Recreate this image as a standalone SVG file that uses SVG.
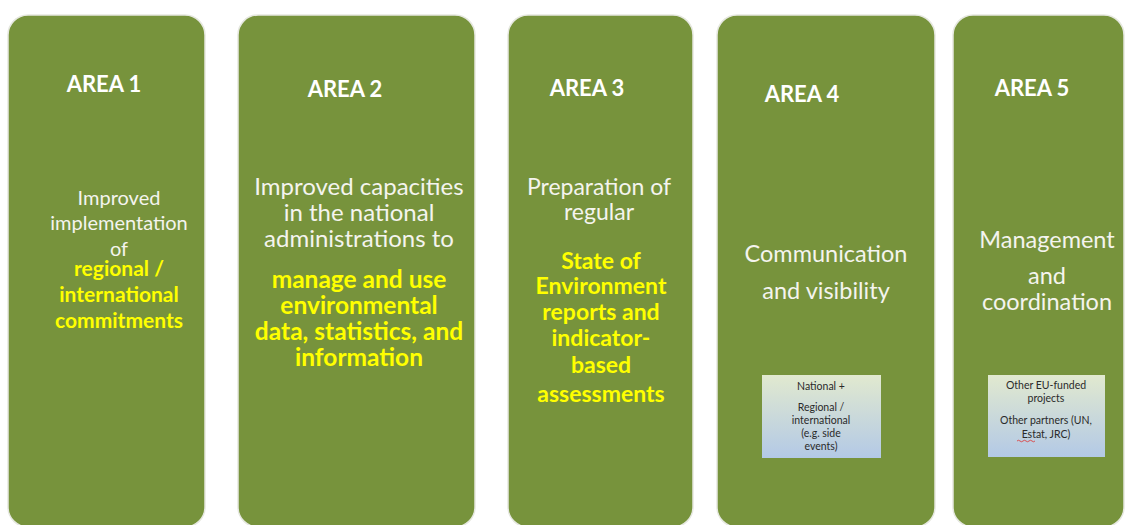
<svg xmlns="http://www.w3.org/2000/svg" width="1126" height="525" viewBox="0 0 1126 525">
<defs>
<linearGradient id="sub" x1="0" y1="0" x2="0" y2="1">
<stop offset="0" stop-color="#e1e9cf"/>
<stop offset="1" stop-color="#b3c9e6"/>
</linearGradient>
<style>
.area{fill:#77933c;stroke:#e6e8e0;stroke-width:1.5}
.t{font-family:Lato,"Liberation Sans",sans-serif;text-anchor:middle}
.h{font-size:22px;font-weight:bold;fill:#ffffff}
.w{fill:#f4f4ee}
.y{font-weight:bold;fill:#ffff00}
.sub{fill:url(#sub);stroke:none}
.s{font-family:Lato,"Liberation Sans",sans-serif;font-size:10.5px;fill:#2a2a2a;text-anchor:middle}
</style>
</defs>
<rect width="1126" height="525" fill="#ffffff"/>
<g id="area1">
<rect class="area" x="8" y="15" width="197" height="512" rx="20"/>
<text class="t h" x="104" y="92">AREA 1</text>
<text class="t w" x="119" y="205" font-size="20">Improved</text>
<text class="t w" x="119" y="230" font-size="20">implementation</text>
<text class="t w" x="119" y="256" font-size="20">of</text>
<text class="t y" x="119" y="276" font-size="21">regional /</text>
<text class="t y" x="119" y="302" font-size="21">international</text>
<text class="t y" x="119" y="328" font-size="21">commitments</text>
</g>
<g id="area2">
<rect class="area" x="238" y="15" width="237" height="512" rx="20"/>
<text class="t h" x="345" y="97">AREA 2</text>
<text class="t w" x="359" y="195" font-size="24">Improved capacities</text>
<text class="t w" x="359" y="221" font-size="24">in the national</text>
<text class="t w" x="359" y="247" font-size="24">administrations to</text>
<text class="t y" x="359" y="288" font-size="24.5">manage and use</text>
<text class="t y" x="359" y="314" font-size="24.5">environmental</text>
<text class="t y" x="359" y="340" font-size="24.5">data, statistics, and</text>
<text class="t y" x="359" y="366" font-size="24.5">information</text>
</g>
<g id="area3">
<rect class="area" x="508" y="15" width="185" height="512" rx="20"/>
<text class="t h" x="587" y="96">AREA 3</text>
<text class="t w" x="599" y="195" font-size="23">Preparation of</text>
<text class="t w" x="599" y="220" font-size="23">regular</text>
<text class="t y" x="601" y="269" font-size="23">State of</text>
<text class="t y" x="601" y="294" font-size="23">Environment</text>
<text class="t y" x="601" y="320" font-size="23">reports and</text>
<text class="t y" x="601" y="346" font-size="23">indicator-</text>
<text class="t y" x="601" y="373" font-size="23">based</text>
<text class="t y" x="601" y="402" font-size="23">assessments</text>
</g>
<g id="area4">
<rect class="area" x="717" y="15" width="218" height="512" rx="20"/>
<text class="t h" x="802" y="102">AREA 4</text>
<text class="t w" x="826" y="262" font-size="23.5">Communication</text>
<text class="t w" x="826" y="299" font-size="23.5">and visibility</text>
<rect class="sub" x="762" y="375" width="119" height="83"/>
<text class="s" x="821" y="390">National +</text>
<text class="s" x="821" y="411">Regional /</text>
<text class="s" x="821" y="424">international</text>
<text class="s" x="821" y="437">(e.g. side</text>
<text class="s" x="821" y="450">events)</text>
</g>
<g id="area5">
<rect class="area" x="953" y="15" width="171" height="512" rx="20"/>
<text class="t h" x="1032" y="96">AREA 5</text>
<text class="t w" x="1047" y="248" font-size="23.5">Management</text>
<text class="t w" x="1047" y="284" font-size="23.5">and</text>
<text class="t w" x="1047" y="310" font-size="23.5">coordination</text>
<rect class="sub" x="988" y="375" width="117" height="82"/>
<text class="s" x="1046" y="389">Other EU-funded</text>
<text class="s" x="1046" y="402">projects</text>
<text class="s" x="1046" y="424">Other partners (UN,</text>
<text class="s" x="1046" y="438">Estat, JRC)</text>
<path d="M1017 441 q1.5 -1.5 3 0 t3 0 t3 0 t3 0 t3 0 t3 0" fill="none" stroke="#e03030" stroke-width="0.8"/>
</g>
<g id="connectors"/>
</svg>
